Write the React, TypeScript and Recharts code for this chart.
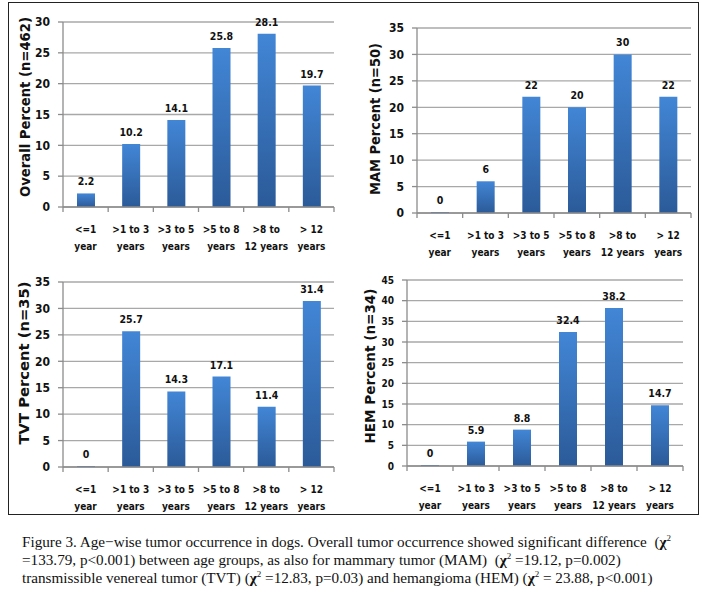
import React from 'react';
import { BarChart, Bar, XAxis, YAxis, CartesianGrid, LabelList } from 'recharts';

// age groups, split in two lines like the original axis
const ageLine1 = ['<=1', '>1 to 3', '>3 to 5', '>5 to 8', '>8 to', '> 12'];
const ageLine2 = ['year', 'years', 'years', 'years', '12 years', 'years'];

const overallPct = [2.2, 10.2, 14.1, 25.8, 28.1, 19.7];
const mamPct = [0, 6, 22, 20, 30, 22];
const tvtPct = [0, 25.7, 14.3, 17.1, 11.4, 31.4];
const hemPct = [0, 5.9, 8.8, 32.4, 38.2, 14.7];

const overallTicks = [0, 5, 10, 15, 20, 25, 30];
const mamTicks = [0, 5, 10, 15, 20, 25, 30, 35];
const tvtTicks = [0, 5, 10, 15, 20, 25, 30, 35];
const hemTicks = [0, 5, 10, 15, 20, 25, 30, 35, 40, 45];

const FONT = '"Liberation Sans Narrow", "DejaVu Sans Condensed", "Liberation Sans", sans-serif';
const AXIS = '#8c8c8c';
const GRID = '#a8a8a8';

const toRows = (values: number[]) =>
  values.map((v, i) => ({ age: ageLine1[i] + ' ' + ageLine2[i], l1: ageLine1[i], l2: ageLine2[i], value: v }));

interface PanelProps {
  left: number;
  top: number;
  values: number[];
  ticks: number[];
  title: string;
  titleX: number;
  titleY: number;
  titleLen: number;
  margin: { top: number; right: number; bottom: number; left: number };
  yFont: number;
}

const W = 345;
const H = 260;

const Panel: React.FC<PanelProps> = ({ left, top, values, ticks, title, titleX, titleY, titleLen, margin, yFont }) => {
  const data = toRows(values);
  const plotW = W - margin.left - margin.right - 40;
  const band = plotW / data.length;

  const AgeTick = (props: any) => {
    const { x, y, index } = props;
    const row = data[index];
    return (
      <g>
        {index === 0 && <line x1={x - band / 2} y1={y} x2={x - band / 2} y2={y + 5} stroke={AXIS} strokeWidth={1.3} />}
        <line x1={x + band / 2} y1={y} x2={x + band / 2} y2={y + 5} stroke={AXIS} strokeWidth={1.3} />
        <text x={x} y={y + 26} textAnchor="middle" fontSize={10} fontWeight="bold" fontFamily={FONT} fill="#111">
          {row.l1}
        </text>
        <text x={x} y={y + 43} textAnchor="middle" fontSize={10} fontWeight="bold" fontFamily={FONT} fill="#111">
          {row.l2}
        </text>
      </g>
    );
  };

  const renderTitle = () => (
    <text
      x={titleX}
      y={titleY}
      transform={`rotate(-90, ${titleX}, ${titleY})`}
      textAnchor="middle"
      dominantBaseline="central"
      fontSize={14}
      fontWeight="bold"
      fontFamily={FONT}
      fill="#111"
      textLength={titleLen}
      lengthAdjust="spacingAndGlyphs"
    >
      {title}
    </text>
  );

  return (
    <div style={{ position: 'absolute', left, top }}>
      <BarChart width={W} height={H} data={data} margin={margin}>
        <defs>
          <linearGradient id="barBlue" x1="0" y1="0" x2="0" y2="1">
            <stop offset="0%" stopColor="#4286d6" />
            <stop offset="100%" stopColor="#2b5a98" />
          </linearGradient>
        </defs>
        <CartesianGrid vertical={false} stroke={GRID} strokeWidth={1.3} />
        <XAxis
          dataKey="age"
          interval={0}
          tickSize={0}
          tickMargin={0}
          height={40}
          stroke={AXIS}
          strokeWidth={1.3}
          tick={<AgeTick />}
        />
        <YAxis
          width={40}
          domain={[ticks[0], ticks[ticks.length - 1]]}
          ticks={ticks}
          interval={0}
          tickSize={5}
          tickMargin={8}
          stroke={AXIS}
          strokeWidth={1.3}
          tick={{ fill: '#111', fontSize: yFont, fontWeight: 'bold', fontFamily: FONT }}
          label={{ content: renderTitle }}
        />
        <Bar dataKey="value" fill="url(#barBlue)" barSize={18} minPointSize={1} isAnimationActive={false}>
          <LabelList
            dataKey="value"
            position="top"
            offset={8}
            style={{ fill: '#111', fontSize: 10.5, fontWeight: 'bold', fontFamily: FONT }}
          />
        </Bar>
      </BarChart>
    </div>
  );
};

const captionStyle: React.CSSProperties = {
  position: 'absolute',
  left: 22,
  top: 533,
  fontFamily: '"Liberation Serif", "DejaVu Serif", serif',
  fontSize: 15.2,
  lineHeight: '18px',
  color: '#111',
  whiteSpace: 'nowrap',
};

const Chi = () => (
  <>
    <b>χ</b>
    <sup style={{ fontSize: 9, lineHeight: 0, verticalAlign: 6 }}>2</sup>
  </>
);

export default function App() {
  return (
    <div style={{ position: 'absolute', left: 0, top: 0, width: 714, height: 597, background: '#fff' }}>
      <div
        style={{
          position: 'absolute',
          left: 8,
          top: 2,
          width: 691,
          height: 513,
          border: '1px solid #222',
          boxSizing: 'border-box',
        }}
      />
      <Panel
        left={0}
        top={0}
        values={overallPct}
        ticks={overallTicks}
        title="Overall Percent (n=462)"
        titleX={25}
        titleY={107}
        titleLen={180}
        margin={{ top: 22, right: 11, bottom: 13, left: 23 }}
        yFont={12}
      />
      <Panel
        left={357}
        top={0}
        values={mamPct}
        ticks={mamTicks}
        title="MAM Percent (n=50)"
        titleX={18}
        titleY={119}
        titleLen={152}
        margin={{ top: 28, right: 11, bottom: 7, left: 20 }}
        yFont={12}
      />
      <Panel
        left={0}
        top={255}
        values={tvtPct}
        ticks={tvtTicks}
        title="TVT Percent (n=35)"
        titleX={24}
        titleY={108}
        titleLen={163}
        margin={{ top: 27, right: 11, bottom: 8, left: 23 }}
        yFont={12}
      />
      <Panel
        left={357}
        top={255}
        values={hemPct}
        ticks={hemTicks}
        title="HEM Percent (n=34)"
        titleX={13}
        titleY={111}
        titleLen={155}
        margin={{ top: 25, right: 19, bottom: 9, left: 10 }}
        yFont={10}
      />
      <div style={captionStyle}>
        <div>
          Figure 3. Age−wise tumor occurrence in dogs. Overall tumor occurrence showed significant difference&nbsp;&nbsp;(<Chi />
        </div>
        <div>
          =133.79, p&lt;0.001) between age groups, as also for mammary tumor (MAM)&nbsp;&nbsp;(<Chi /> =19.12, p=0.002)
        </div>
        <div>
          transmissible venereal tumor (TVT) (<Chi /> =12.83, p=0.03) and hemangioma (HEM) (<Chi /> = 23.88, p&lt;0.001)
        </div>
      </div>
    </div>
  );
}
